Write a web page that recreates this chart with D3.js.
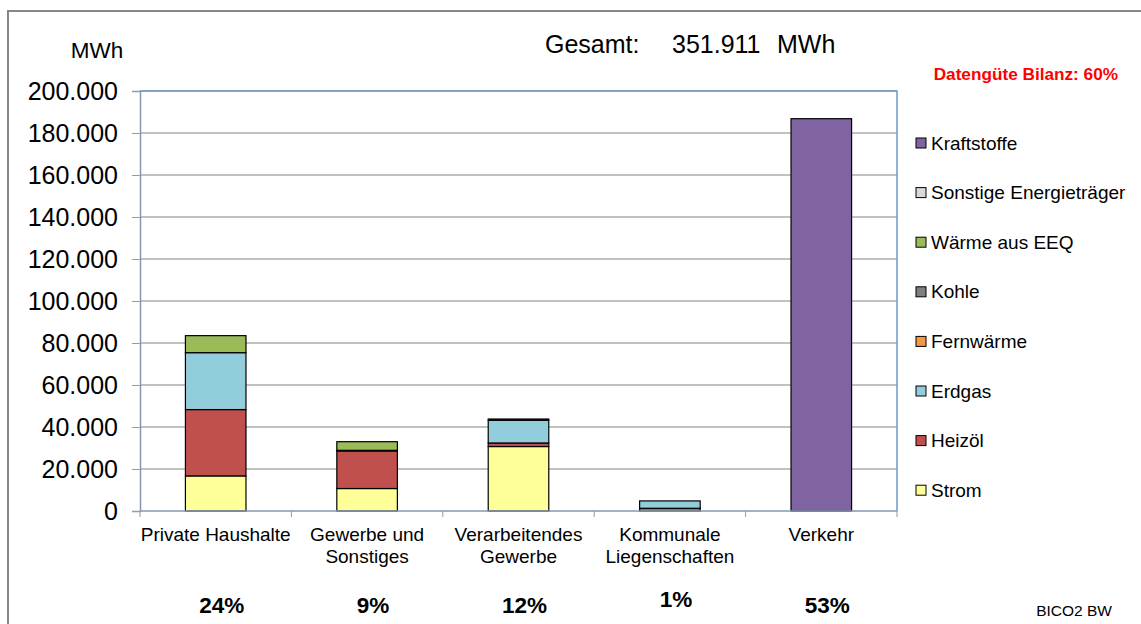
<!DOCTYPE html>
<html>
<head>
<meta charset="utf-8">
<script src="https://cdn.jsdelivr.net/npm/d3@7/dist/d3.min.js"></script>
<style>
  html, body { margin: 0; padding: 0; background: #fff; }
  svg { display: block; font-family: Arial, "Liberation Sans", sans-serif; }
</style>
</head>
<body>
<svg id="chart" width="1141" height="624"></svg>
<script>
// Sectors (x categories), two-line labels as drawn under the axis
const sectors = ["Private Haushalte", "Gewerbe und Sonstiges", "Verarbeitendes Gewerbe", "Kommunale Liegenschaften", "Verkehr"];
const sectorLabels = [["Private Haushalte"], ["Gewerbe und", "Sonstiges"], ["Verarbeitendes", "Gewerbe"], ["Kommunale", "Liegenschaften"], ["Verkehr"]];

// Energy carriers, stacked from bottom to top (MWh per sector)
const carriers = ["Strom", "Heizöl", "Erdgas", "Fernwärme", "Kohle", "Wärme aus EEQ", "Sonstige Energieträger", "Kraftstoffe"];
const strom       = [16700, 10700, 30700, 1100, 0];
const heizoel     = [31600, 17900, 1700, 200, 0];
const erdgas      = [27100, 300, 10800, 3500, 0];
const fernwaerme  = [0, 0, 0, 0, 0];
const kohle       = [0, 0, 600, 0, 0];
const waermeEEQ   = [8100, 4100, 0, 0, 0];
const sonstige    = [0, 0, 0, 0, 0];
const kraftstoffe = [0, 0, 0, 0, 186811];
const carrierValues = [strom, heizoel, erdgas, fernwaerme, kohle, waermeEEQ, sonstige, kraftstoffe];
const carrierColors = ["#FFFF99", "#C0504D", "#92CDDC", "#F79646", "#7F7F7F", "#9BBB59", "#D9D9D9", "#8064A2"];

const yTicks = [0, 20000, 40000, 60000, 80000, 100000, 120000, 140000, 160000, 180000, 200000];
const qualityLabel = "Datengüte Bilanz: 60%";
const sourceLabel = "BICO2 BW";

const de = d3.formatLocale({ decimal: ",", thousands: ".", grouping: [3], currency: ["", " €"] });
const fmt = de.format(",.0f");

const svg = d3.select("#chart");
const plot = { left: 140, right: 897, top: 91, bottom: 511 };

// Build stack table
const table = sectors.map((s, i) => {
  const row = { sector: s };
  carriers.forEach((c, k) => { row[c] = carrierValues[k][i]; });
  return row;
});
const stacked = d3.stack().keys(carriers)(table);
const sectorTotals = sectors.map((s, i) => d3.sum(carrierValues, v => v[i]));
const grandTotal = d3.sum(sectorTotals);

const x = d3.scaleBand().domain(sectors).range([plot.left, plot.right]).paddingInner(0.6).paddingOuter(0.3);
const xOuter = d3.scaleBand().domain(sectors).range([plot.left, plot.right]);
const y = d3.scaleLinear().domain([0, 200000]).range([plot.bottom, plot.top]);

// Outer frame
svg.append("path")
  .attr("d", "M8,624 V11 H1141")
  .attr("fill", "none").attr("stroke", "#878787").attr("stroke-width", 2);

// Gridlines
svg.append("g")
  .selectAll("line").data(yTicks.filter(t => t > 0)).join("line")
  .attr("x1", plot.left).attr("x2", plot.right)
  .attr("y1", d => y(d)).attr("y2", d => y(d))
  .attr("stroke", "#ADADAD").attr("stroke-width", 1.5);

// Plot area border (top and right)
svg.append("path")
  .attr("d", `M${plot.left},${plot.top} H${plot.right} V${plot.bottom}`)
  .attr("fill", "none").attr("stroke", "#7096C8").attr("stroke-width", 1.5);

// Y axis
const yAxis = svg.append("g")
  .attr("transform", `translate(${plot.left},0)`)
  .call(d3.axisLeft(y).tickValues(yTicks).tickFormat(fmt).tickSize(8).tickPadding(14));
yAxis.select(".domain").attr("stroke", "#8497B0").attr("stroke-width", 1.5);
yAxis.selectAll(".tick line").attr("stroke", "#9A9A9A").attr("stroke-width", 1);
yAxis.selectAll(".tick text").attr("font-size", 25).attr("fill", "#000")
  .attr("font-family", "Arial, 'Liberation Sans', sans-serif");

// Bars
svg.append("g")
  .selectAll("g").data(stacked).join("g")
  .attr("fill", (d, i) => carrierColors[i])
  .selectAll("rect").data(d => d.filter(p => p[1] - p[0] > 0)).join("rect")
  .attr("x", d => x(d.data.sector))
  .attr("width", x.bandwidth())
  .attr("y", d => y(d[1]))
  .attr("height", d => y(d[0]) - y(d[1]))
  .attr("stroke", "#000").attr("stroke-width", 1.2);

// X axis
const xAxis = svg.append("g")
  .attr("transform", `translate(0,${plot.bottom})`);
xAxis.append("line")
  .attr("x1", plot.left).attr("x2", plot.right)
  .attr("stroke", "#8497B0").attr("stroke-width", 1.5);
const boundaries = sectors.map(s => xOuter(s)).concat([plot.right]);
xAxis.selectAll("line.tick").data(boundaries).join("line").attr("class", "tick")
  .attr("x1", d => d).attr("x2", d => d).attr("y1", 0).attr("y2", 6)
  .attr("stroke", "#9A9A9A").attr("stroke-width", 1);

const labels = svg.append("g")
  .selectAll("text").data(sectorLabels).join("text")
  .attr("text-anchor", "middle")
  .attr("font-size", 19)
  .attr("fill", "#000")
  .attr("transform", (d, i) => `translate(${xOuter(sectors[i]) + xOuter.bandwidth() / 2},${plot.bottom + 30})`);
labels.selectAll("tspan").data(d => d).join("tspan")
  .attr("x", 0).attr("dy", (d, i) => i === 0 ? 0 : 22).text(d => d);

// Share of total per sector
const pctOffsets = [613, 613, 613, 607, 613];
svg.append("g")
  .selectAll("text").data(sectorTotals).join("text")
  .attr("x", (d, i) => xOuter(sectors[i]) + xOuter.bandwidth() / 2 + 6)
  .attr("y", (d, i) => pctOffsets[i])
  .attr("text-anchor", "middle")
  .attr("font-size", 22.5).attr("font-weight", "bold")
  .text(d => Math.round(d / grandTotal * 100) + "%");

// Unit
svg.append("text").attr("x", 97).attr("y", 58).attr("text-anchor", "middle")
  .attr("font-size", 22.5).text("MWh");

// Total
const head = svg.append("g").attr("font-size", 25);
head.append("text").attr("x", 545).attr("y", 53).text("Gesamt:");
head.append("text").attr("x", 672).attr("y", 53).text(fmt(grandTotal));
head.append("text").attr("x", 777).attr("y", 53).text("MWh");

// Data quality note
svg.append("text").attr("x", 1118).attr("y", 80).attr("text-anchor", "end")
  .attr("font-size", 17.2).attr("font-weight", "bold").attr("fill", "#FF0000")
  .text(qualityLabel);

// Legend (top entry = last stacked series)
const legendOrder = carriers.map((c, i) => i).reverse();
const legend = svg.append("g")
  .selectAll("g").data(legendOrder).join("g")
  .attr("transform", (d, j) => `translate(916,${143 + j * 49.6})`);
legend.append("rect")
  .attr("x", 0).attr("y", -5).attr("width", 10).attr("height", 10)
  .attr("fill", d => carrierColors[d]).attr("stroke", "#000").attr("stroke-width", 1);
legend.append("text")
  .attr("x", 15).attr("y", 0).attr("dy", "0.35em")
  .attr("font-size", 19).text(d => carriers[d]);

// Source note
svg.append("text").attr("x", 1112).attr("y", 616).attr("text-anchor", "end")
  .attr("font-size", 15.5).text(sourceLabel);
</script>
</body>
</html>
